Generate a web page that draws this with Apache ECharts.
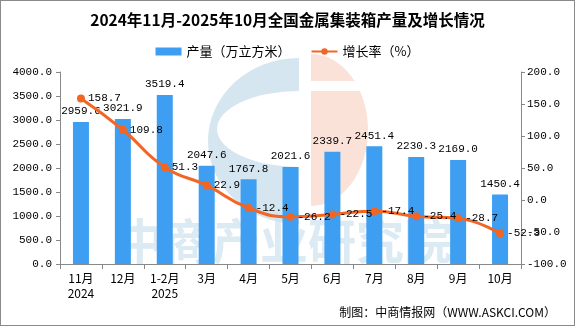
<!DOCTYPE html>
<html><head><meta charset="utf-8">
<script src="https://cdn.jsdelivr.net/npm/echarts@6/dist/echarts.min.js"></script>
<style>html,body{margin:0;padding:0;background:#fff}#c{width:575px;height:326px;box-sizing:border-box;border:1px solid #8a8a8a}</style>
</head><body><div id="c"></div>
<script>
const categories = ['11月\n2024','12月','1-2月\n2025','3月','4月','5月','6月','7月','8月','9月','10月'];
const output = [2959.6,3021.9,3519.4,2047.6,1767.8,2021.6,2339.7,2451.4,2230.3,2169.0,1450.4];
const growth = [158.7,109.8,51.3,22.9,-12.4,-26.2,-22.5,-17.4,-25.4,-28.7,-52.3];
const leftTicks = {min:0,max:4000,interval:500};
const rightTicks = {min:-100,max:200,interval:50};

const mono = '"Liberation Mono","DejaVu Sans Mono",monospace';
const cjk = '"Noto Sans CJK SC","Noto Sans",sans-serif';
const chart = echarts.init(document.getElementById('c'));
const P = Math.PI;
chart.setOption({
  animation:false,
  textStyle:{fontFamily:cjk},
  title:{text:'2024年11月-2025年10月全国金属集装箱产量及增长情况',left:'center',top:6,
    textStyle:{fontFamily:cjk,fontSize:15.5,fontWeight:'bold',color:'#000'}},
  legend:{top:39,left:'center',itemGap:20,itemWidth:26,itemHeight:8,
    textStyle:{fontFamily:cjk,fontSize:13,color:'#000'},
    data:[{name:'产量（万立方米）',icon:'rect'},{name:'增长率（%）'}]},
  grid:{left:59,right:53,top:71,bottom:61,containLabel:false},
  graphic:[
    {type:'sector',z:-5,silent:true,shape:{cx:298,cy:140,r:91,startAngle:P/2,endAngle:3*P/2},scaleY:83/91,originX:298,originY:140,style:{fill:'#d6e6f0'}},
    {type:'sector',z:-4,silent:true,shape:{cx:298,cy:128,r:82,startAngle:P/2,endAngle:3*P/2},scaleY:38/82,originX:298,originY:128,style:{fill:'#ffffff'}},
    {type:'sector',z:-5,silent:true,shape:{cx:310,cy:129,r:57,startAngle:-P/2,endAngle:P/2},scaleY:76/57,originX:310,originY:129,style:{fill:'#fbe2d8'}},
    {type:'rect',z:-4,silent:true,shape:{x:309,y:80,width:62,height:10},style:{fill:'#ffffff'}},
    {type:'text',left:115,top:216,z:-3,silent:true,style:{text:'中商产业研究院',font:'bold 48px "Noto Sans CJK SC"',fill:'rgba(205,225,239,0.7)'}},
    {type:'text',right:18,top:305,style:{text:'制图：中商情报网（WWW.ASKCI.COM）',font:'12px "Noto Sans CJK SC"',fill:'#000'}}
  ],
  xAxis:{type:'category',data:categories,
    axisLine:{lineStyle:{color:'#888'}},
    axisTick:{show:true,length:5,lineStyle:{color:'#888'}},
    axisLabel:{color:'#000',fontFamily:cjk,fontSize:12,lineHeight:15,margin:7}},
  yAxis:[
    {type:'value',min:leftTicks.min,max:leftTicks.max,interval:leftTicks.interval,
     axisLine:{show:true,lineStyle:{color:'#888'}},axisTick:{show:true,length:4,lineStyle:{color:'#888'}},
     splitLine:{show:false},
     axisLabel:{color:'#000',fontFamily:mono,fontSize:11,margin:8,formatter:v=>v.toFixed(1)}},
    {type:'value',min:rightTicks.min,max:rightTicks.max,interval:rightTicks.interval,
     axisLine:{show:true,lineStyle:{color:'#888'}},axisTick:{show:true,length:4,lineStyle:{color:'#888'}},
     splitLine:{show:false},
     axisLabel:{color:'#000',fontFamily:mono,fontSize:11,margin:6,formatter:v=>v.toFixed(1)}}
  ],
  series:[
    {name:'产量（万立方米）',type:'bar',data:output,barWidth:16,yAxisIndex:0,
     itemStyle:{color:'#3d9ef2'},
     label:{show:true,position:'top',distance:5,color:'#000',fontFamily:mono,fontSize:11,formatter:p=>p.value.toFixed(1)}},
    {name:'增长率（%）',type:'line',data:growth,yAxisIndex:1,smooth:true,
     symbol:'circle',symbolSize:8,
     lineStyle:{color:'#f26522',width:3},itemStyle:{color:'#f26522'},
     label:{show:true,position:'right',distance:3,color:'#000',fontFamily:mono,fontSize:11,formatter:p=>p.value.toFixed(1)}}
  ]
});
</script></body></html>
